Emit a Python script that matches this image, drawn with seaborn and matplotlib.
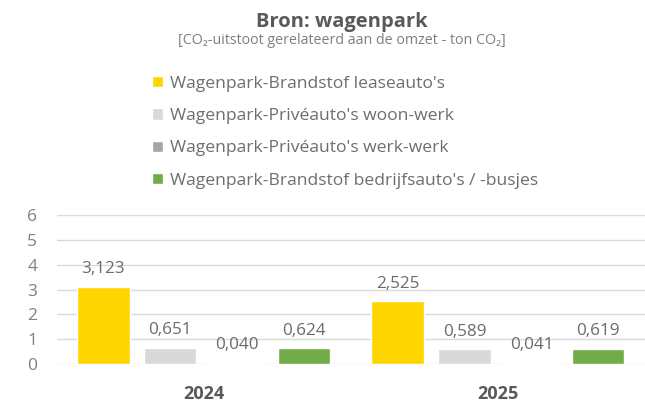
import pandas as pd
import matplotlib.pyplot as plt
import seaborn as sns

# Data
years = ['2024', '2025']
series = [
    "Wagenpark-Brandstof leaseauto's",
    "Wagenpark-Privéauto's woon-werk",
    "Wagenpark-Privéauto's werk-werk",
    "Wagenpark-Brandstof bedrijfsauto's / -busjes",
]
lease = [3.123, 2.525]
woon_werk = [0.651, 0.589]
werk_werk = [0.040, 0.041]
bedrijf = [0.624, 0.619]
colors = ['#FFD500', '#D9D9D9', '#A6A6A6', '#70AD47']

rows = []
for name, vals in zip(series, [lease, woon_werk, werk_werk, bedrijf]):
    for y, v in zip(years, vals):
        rows.append({'jaar': y, 'bron': name, 'waarde': v})
df = pd.DataFrame(rows)

sns.set_style('white')
plt.rcParams['font.family'] = ['Open Sans', 'DejaVu Sans']

fig = plt.figure(figsize=(6.45, 4.03), dpi=100)
ax = fig.add_axes([0.088, 0.097, 0.912, 0.369])

sns.barplot(data=df, x='jaar', y='waarde', hue='bron', hue_order=series,
            palette=dict(zip(series, colors)), width=0.91, gap=0.22,
            saturation=1, ax=ax, legend=True)

# value labels with decimal comma
for c in ax.containers:
    ax.bar_label(c, fmt=lambda v: f'{v:.3f}'.replace('.', ','), padding=7,
                 fontsize=12.3, color='#6b6b6b')

ax.set_ylim(0, 6)
ax.set_yticks(range(0, 7))
ax.yaxis.grid(True, color='#d9d9d9', linewidth=1)
ax.set_axisbelow(True)
sns.despine(ax=ax, left=True, bottom=True)
ax.tick_params(axis='y', length=0, labelsize=12.5, labelcolor='#808080', pad=14)
ax.tick_params(axis='x', length=0, labelsize=13, labelcolor='#595959', pad=15)
for t in ax.get_xticklabels():
    t.set_fontweight('bold')
ax.set_xlabel('')
ax.set_ylabel('')

# legend above the plot
handles, labels = ax.get_legend_handles_labels()
ax.get_legend().remove()
fig.legend(handles, labels, loc='upper left', bbox_to_anchor=(0.225, 0.829),
           frameon=False, fontsize=12.6, labelcolor='#6e6e6e',
           handlelength=0.6, handleheight=0.6, handletextpad=0.45,
           labelspacing=0.93, borderaxespad=0)

fig.text(0.53, 0.933, 'Bron: wagenpark', ha='center', va='baseline',
         fontsize=14.5, fontweight='bold', color='#595959')
fig.text(0.53, 0.891, '[CO₂-uitstoot gerelateerd aan de omzet - ton CO₂]',
         ha='center', va='baseline', fontsize=10.3, color='#7f7f7f')

fig.savefig('out.png', dpi=100)
